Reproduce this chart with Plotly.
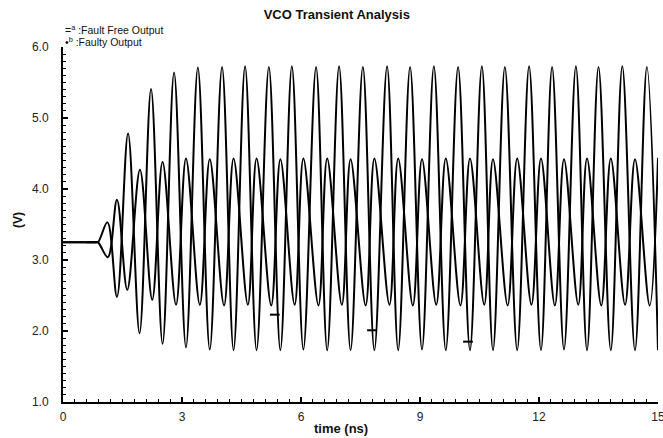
import plotly.graph_objects as go

# valores (tempo em ns, tensão em V)
t_free = [0.0, 0.8, 0.88, 1.12, 1.36,
          1.64, 1.93, 2.22, 2.51, 2.80, 3.10, 3.40, 3.70, 4.01, 4.30,
          4.59, 4.88, 5.19, 5.48, 5.77, 6.06, 6.38, 6.66, 6.96, 7.25,
          7.56, 7.85, 8.17, 8.45, 8.75, 9.05, 9.35, 9.65, 9.96, 10.26,
          10.56, 10.84, 11.14, 11.45, 11.75, 12.05, 12.33, 12.63, 12.93, 13.21,
          13.50, 13.81, 14.10, 14.42, 14.72, 15.0]
v_free = [3.25, 3.25, 3.25, 3.53, 2.48,
          4.78, 1.97, 5.41, 1.82, 5.64, 1.77, 5.71, 1.74, 5.72, 1.73,
          5.73, 1.73, 5.72, 1.73, 5.73, 1.74, 5.72, 1.73, 5.73, 1.73,
          5.72, 1.73, 5.73, 1.73, 5.72, 1.74, 5.73, 1.73, 5.72, 1.73,
          5.73, 1.73, 5.72, 1.73, 5.73, 1.73, 5.72, 1.74, 5.73, 1.73,
          5.72, 1.73, 5.73, 1.73, 5.72, 1.73]

t_faulty = [0.0, 0.8, 0.88, 1.13, 1.36,
            1.62, 1.94, 2.25, 2.51, 2.85, 3.10, 3.45, 3.70, 4.06, 4.30,
            4.66, 4.88, 5.25, 5.48, 5.84, 6.06, 6.44, 6.66, 7.03, 7.25,
            7.63, 7.85, 8.23, 8.45, 8.82, 9.05, 9.41, 9.65, 10.02, 10.26,
            10.62, 10.84, 11.21, 11.45, 11.81, 12.05, 12.40, 12.63, 12.99, 13.21,
            13.57, 13.81, 14.17, 14.42, 14.79, 15.0]
v_faulty = [3.25, 3.25, 3.25, 3.04, 3.85,
            2.58, 4.27, 2.44, 4.38, 2.37, 4.43, 2.37, 4.42, 2.36, 4.43,
            2.37, 4.43, 2.36, 4.42, 2.37, 4.43, 2.36, 4.43, 2.37, 4.42,
            2.36, 4.43, 2.37, 4.43, 2.36, 4.42, 2.37, 4.43, 2.36, 4.43,
            2.37, 4.42, 2.36, 4.43, 2.37, 4.43, 2.36, 4.42, 2.37, 4.43,
            2.36, 4.43, 2.37, 4.42, 2.36, 4.44]

# pequenos marcadores das curvas
t_marks = [0.70, 5.34, 7.79, 10.21]
v_marks = [3.25, 2.23, 2.01, 1.85]

x_ticks = [0, 3, 6, 9, 12, 15]
y_ticks = [1.0, 2.0, 3.0, 4.0, 5.0, 6.0]

FONT = "Liberation Sans, Arial, sans-serif"

fig = go.Figure()
fig.add_trace(go.Scatter(x=t_free, y=v_free, name="Fault Free Output", mode="lines",
                         line=dict(color="black", width=2, shape="spline", smoothing=1)))
fig.add_trace(go.Scatter(x=t_faulty, y=v_faulty, name="Faulty Output", mode="lines",
                         line=dict(color="black", width=2, shape="spline", smoothing=1)))
fig.add_trace(go.Scatter(x=t_marks, y=v_marks, mode="markers", showlegend=False,
                         marker=dict(symbol="line-ew", size=7,
                                     line=dict(color="black", width=2))))

fig.update_layout(
    width=663, height=438,
    margin=dict(l=63, r=5, t=47, b=36),
    plot_bgcolor="white", paper_bgcolor="white",
    showlegend=False,
    font=dict(family=FONT, size=12, color="#222"),
    title=dict(text="<b>VCO Transient Analysis</b>", x=0.508, xanchor="center",
               y=1 - 14 / 438, yanchor="middle", yref="container",
               font=dict(size=13, color="#111")),
)
fig.update_xaxes(
    range=[0, 15], tickvals=x_ticks, ticktext=[str(v) for v in x_ticks],
    showgrid=False, zeroline=False, showline=True, linecolor="black", linewidth=2,
    ticks="inside", ticklen=5, tickwidth=2, tickcolor="black",
    minor=dict(dtick=0.3, ticks="inside", ticklen=3, tickwidth=1, tickcolor="black"),
    ticklabelstandoff=3, ticklabeloverflow="allow", automargin=False,
)
fig.update_yaxes(
    range=[1.0, 6.0], tickvals=y_ticks, ticktext=[f"{v:.1f}" for v in y_ticks],
    showgrid=False, zeroline=False, showline=True, linecolor="black", linewidth=2,
    ticks="inside", ticklen=5, tickwidth=2, tickcolor="black",
    minor=dict(dtick=0.1, ticks="inside", ticklen=3, tickwidth=1, tickcolor="black"),
    ticklabelstandoff=10, automargin=False,
)

# títulos dos eixos e legenda como anotações
fig.add_annotation(text="<b>time (ns)</b>", xref="paper", yref="paper",
                   x=(341 - 63) / 595, y=-(429 - 402) / 355, showarrow=False,
                   xanchor="center", yanchor="middle", font=dict(size=13, color="#111"))
fig.add_annotation(text="<b>(V)</b>", xref="paper", yref="paper",
                   x=-(63 - 18) / 595, y=(402 - 220) / 355, showarrow=False, textangle=-90,
                   xanchor="center", yanchor="middle", font=dict(size=12, color="#111"))
fig.add_annotation(text="=<sup>a</sup> :Fault Free Output", xref="paper", yref="paper",
                   x=-(63 - 63) / 595, y=(402 - 29) / 355, showarrow=False,
                   xanchor="left", yanchor="middle", font=dict(size=10.5, color="#111"))
fig.add_annotation(text="\u2022<sup>b</sup> :Faulty Output", xref="paper", yref="paper",
                   x=-(63 - 63) / 595, y=(402 - 41) / 355, showarrow=False,
                   xanchor="left", yanchor="middle", font=dict(size=10.5, color="#111"))

fig.write_html("out.html", config={"displayModeBar": False},
               post_script="document.body.style.margin='0';")
